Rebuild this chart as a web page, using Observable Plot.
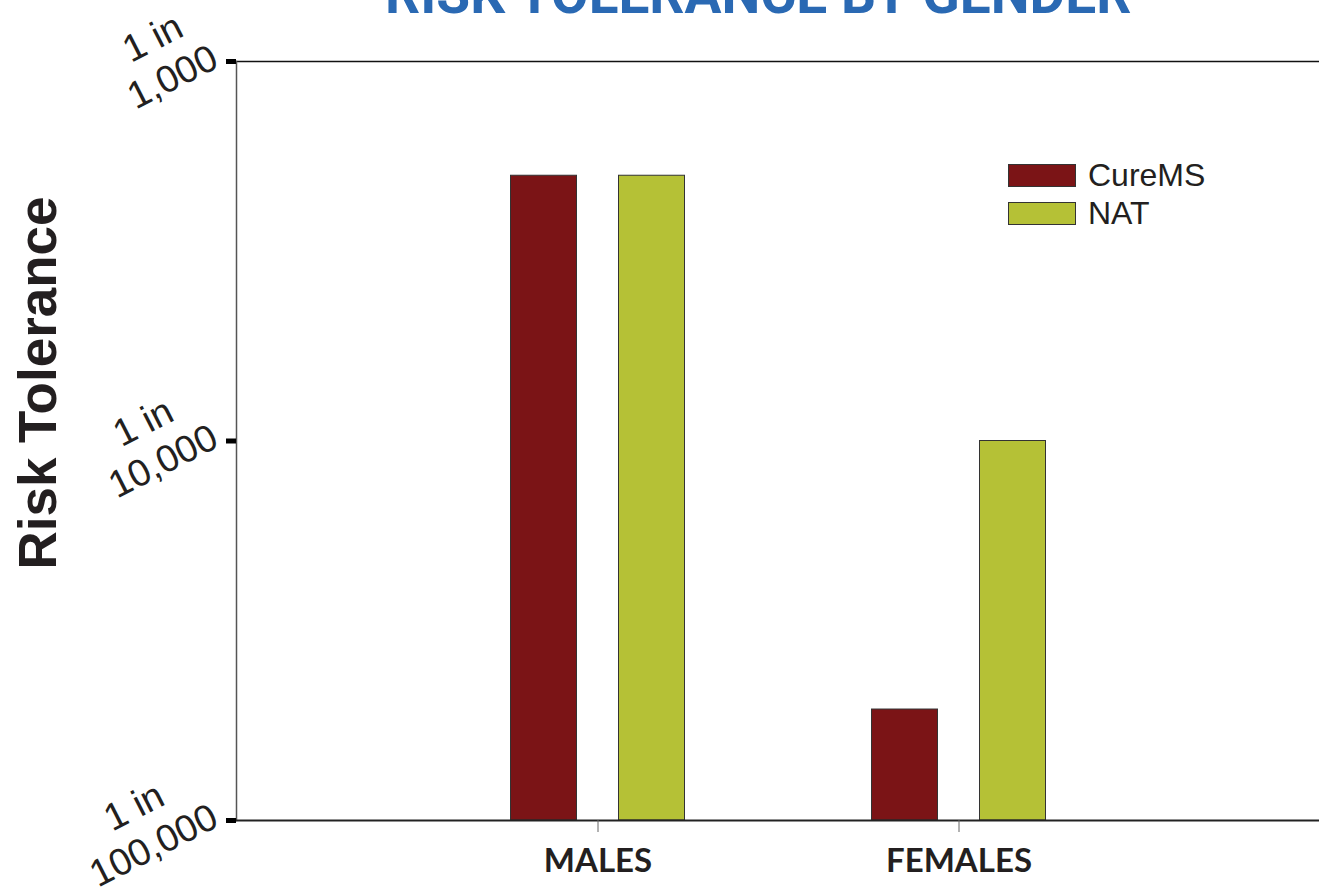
<!DOCTYPE html>
<html>
<head>
<meta charset="utf-8">
<script src="https://cdn.jsdelivr.net/npm/d3@7"></script>
<script src="https://cdn.jsdelivr.net/npm/@observablehq/plot@0.6"></script>
<style>
  html, body { margin: 0; padding: 0; background: #fff; overflow: hidden; }
  #wrap { position: relative; width: 1319px; height: 894px; }
  #title { position: absolute; left: 385px; top: -33px; line-height: 1; font-family: Roboto, "Liberation Sans", sans-serif; font-weight: 700; font-size: 55px; color: #2a69b3; white-space: nowrap; }
  #ytitle { position: absolute; left: 64px; top: 383px; transform: rotate(-90deg); transform-origin: 0 0; }
  #legend { position: absolute; left: 1008px; top: 156px; font-family: "Liberation Sans", Arial, sans-serif; font-size: 32px; color: #231f20; }
  .item { display: flex; align-items: center; height: 38px; }
  .sw { width: 66px; height: 21px; border: 1px solid #333; margin-right: 12px; }
</style>
</head>
<body>
<div id="wrap">
  <div id="chart"></div>
  <div id="title">RISK TOLERANCE BY GENDER</div>
  <div id="legend"></div>
</div>
<script>
// ---- data ----
const genders = ["MALES", "FEMALES"];
const seriesNames = ["CureMS", "NAT"];
const cureMS = [2000, 51000];   // "1 in N"
const nat = [2000, 10000];      // "1 in N"
const seriesColors = ["#7b1416", "#b5c136"];
const tickValues = [1e-3, 1e-4, 1e-5];
const tickLabels = ["1 in\n1,000", "1 in\n10,000", "1 in\n100,000"];
const yTitle = "Risk Tolerance";

const rows = [];
genders.forEach((g, i) => {
  rows.push({gender: g, series: seriesNames[0], risk: 1 / cureMS[i]});
  rows.push({gender: g, series: seriesNames[1], risk: 1 / nat[i]});
});

const base = tickValues[tickValues.length - 1];

// tick label geometry (rotated, each line centred, last line ends at the tick)
const labelFont = "'Liberation Sans', Arial, sans-serif";
const labelSize = 38;
const angle = 27;
const ctx = document.createElement("canvas").getContext("2d");
ctx.font = `${labelSize}px ${labelFont}`;
const rad = angle * Math.PI / 180;
const labelMarks = tickValues.map((v, i) => {
  const lines = tickLabels[i].split("\n");
  const w = ctx.measureText(lines[lines.length - 1]).width;
  return Plot.text([v], {
    y: d => d, frameAnchor: "left", text: () => tickLabels[i],
    rotate: -angle, textAnchor: "middle", lineAnchor: "bottom",
    fontSize: labelSize, lineHeight: 1.15, fontFamily: labelFont, fill: "#231f20",
    dx: -16 - (w / 2) * Math.cos(rad), dy: 5 + (w / 2) * Math.sin(rad)
  });
});

const chart = Plot.plot({
  width: 1319,
  height: 894,
  marginLeft: 236,
  marginRight: 0,
  marginTop: 61,
  marginBottom: 74,
  style: {fontFamily: labelFont, background: "transparent"},
  x: {domain: genders, paddingInner: 0, paddingOuter: 0.5, label: null},
  y: {type: "log", domain: [base, tickValues[0]], label: null},
  color: {domain: seriesNames, range: seriesColors},
  marks: [
    Plot.rectY(rows.filter(d => d.series === seriesNames[0]), {
      x: "gender", y1: () => base, y2: "risk", fill: "series",
      stroke: "#333", strokeWidth: 1, insetLeft: 147.5, insetRight: 147.5, dx: -54
    }),
    Plot.rectY(rows.filter(d => d.series === seriesNames[1]), {
      x: "gender", y1: () => base, y2: "risk", fill: "series",
      stroke: "#333", strokeWidth: 1, insetLeft: 147.5, insetRight: 147.5, dx: 54
    }),
    Plot.frame({anchor: "top", stroke: "#111", strokeWidth: 1.5}),
    Plot.frame({anchor: "left", stroke: "#555", strokeWidth: 1.5}),
    Plot.frame({anchor: "bottom", stroke: "#222", strokeWidth: 2}),
    Plot.axisY({ticks: tickValues, tickSize: 10, strokeWidth: 5, stroke: "#000", tickFormat: () => "", label: null}),
    ...labelMarks,
    Plot.axisX({
      tickSize: 12, tickPadding: 16, stroke: "#666", fill: "#231f20",
      fontSize: 33, fontWeight: "bold", fontFamily: "Lato, 'Open Sans', sans-serif", label: null
    })
  ]
});
document.getElementById("chart").appendChild(chart);

// y-axis title
const yt = document.createElement("div");
yt.id = "ytitle";
yt.innerHTML = `<div style="font-family:'Liberation Sans',Arial,sans-serif;font-weight:bold;font-size:53px;color:#231f20;line-height:1;white-space:nowrap;transform:translate(-50%,-100%);">${yTitle}</div>`;
document.getElementById("wrap").appendChild(yt);

// legend
const lg = document.getElementById("legend");
seriesNames.forEach((s, i) => {
  const it = document.createElement("div");
  it.className = "item";
  it.innerHTML = `<span class="sw" style="background:${seriesColors[i]}"></span><span>${s}</span>`;
  lg.appendChild(it);
});
</script>
</body>
</html>
